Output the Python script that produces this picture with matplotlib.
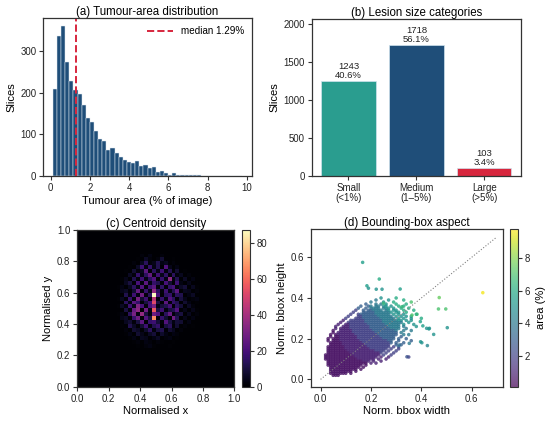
import numpy as np
import matplotlib
matplotlib.use("Agg")
import matplotlib.pyplot as plt
from matplotlib.lines import Line2D

plt.rcParams['font.family'] = ['Liberation Sans', 'DejaVu Sans']
plt.rcParams['axes.edgecolor'] = '#333333'
plt.rcParams['axes.linewidth'] = 0.9
plt.rcParams['xtick.color'] = '#333333'
plt.rcParams['ytick.color'] = '#333333'
plt.rcParams['xtick.labelcolor'] = '#222222'
plt.rcParams['ytick.labelcolor'] = '#222222'
plt.rcParams['xtick.labelsize'] = 6.9
plt.rcParams['ytick.labelsize'] = 6.9

# ---------------- data ----------------
AREA_MIN = 0.12
AREA_MAX = 9.76
MEDIAN_AREA = 1.29
hist_counts = [209, 336, 360, 273, 228, 207, 197, 171, 139, 129,
               107, 89, 83, 63, 67, 56, 46, 38, 33, 30,
               36, 24, 26, 18, 22, 10, 11, 6, 2, 7,
               3, 3, 3, 2, 2, 2, 0, 0, 1, 0,
               0, 0, 0, 0, 0, 1]

size_categories = ["Small\n(<1%)", "Medium\n(1\u20135%)", "Large\n(>5%)"]
size_counts = [1243, 1718, 103]

# centroid density: rows are y-bins 33 down to 10, columns are x-bins 10..31 (40x40 grid on [0,1])
CENT_BINS = 40
CENT_COL0 = 10
CENT_ROW_TOP = 33
centroid_rows = [
    [0,0,0,0,0,0,2,0,3,0,0,2,0,0,0,0,0,0,0,0,0,0],
    [0,0,0,0,0,1,0,6,2,0,2,8,0,0,1,0,0,0,0,0,0,0],
    [0,0,0,0,2,0,5,14,2,4,12,3,5,0,2,0,0,0,0,0,0,0],
    [0,0,0,1,0,6,18,2,16,3,12,0,22,4,0,3,0,0,0,0,0,0],
    [0,0,1,0,8,2,5,24,1,14,3,18,2,12,0,8,0,1,0,0,0,0],
    [0,0,0,6,2,16,3,14,26,2,18,4,15,1,14,2,5,0,2,0,0,0],
    [0,1,4,0,12,2,18,3,14,22,1,16,3,34,2,12,0,6,0,3,0,0],
    [0,0,5,10,1,20,2,24,3,16,12,2,20,8,1,18,3,0,4,0,0,0],
    [1,3,0,5,14,3,22,1,18,24,2,15,1,16,20,2,6,9,0,5,1,0],
    [0,4,6,1,8,26,2,16,4,36,14,2,18,3,12,24,1,5,4,0,2,0],
    [0,0,12,2,18,3,28,2,14,87,20,1,14,16,2,14,12,0,3,6,0,0],
    [1,5,1,16,2,30,8,18,1,44,2,16,3,22,14,1,10,4,0,2,3,0],
    [0,0,14,3,24,16,2,10,18,52,10,1,24,2,16,12,0,8,3,0,1,0],
    [1,6,2,18,4,32,20,2,20,30,3,9,12,20,1,14,9,0,6,2,0,0],
    [0,0,10,2,26,34,1,28,3,56,10,18,2,10,12,22,1,4,0,4,1,0],
    [1,3,0,14,30,3,36,10,2,28,22,1,14,26,2,8,10,0,5,0,2,0],
    [0,4,6,1,16,28,2,22,10,66,2,16,8,1,28,12,0,4,0,3,0,0],
    [0,0,5,8,2,10,24,1,16,18,9,2,22,10,3,9,8,0,3,0,0,0],
    [0,1,0,12,6,1,8,18,2,12,16,0,10,14,1,8,0,2,0,1,0,0],
    [0,0,2,0,8,6,1,7,14,2,10,12,0,8,5,0,2,0,0,0,0,0],
    [0,0,1,3,0,8,4,1,6,9,0,7,3,0,3,2,0,0,0,0,0,0],
    [0,0,0,1,3,0,5,4,0,3,6,0,2,3,0,1,0,0,0,0,0,0],
    [0,0,0,0,1,2,0,3,2,0,2,1,0,0,1,0,0,0,0,0,0,0],
    [0,0,0,0,0,1,0,2,3,1,0,0,0,1,0,0,0,0,0,0,0,0],
]

# bounding boxes: occupancy grid (width 0.02..0.40 by 0.01, height 0.40 down to 0.02 by 0.01)
# char = area % of that box ('0' = about 0.5 %), '.' = empty
BBOX_W0 = 0.02
BBOX_H0 = 0.40
BBOX_STEP = 0.01
bbox_rows = [
    "......................5.....6..........",
    "....................4....5.....6.......",
    "..................4....5...6......7....",
    "................3...4.4.5...6...6......",
    "..............3..34.44.55.5..6.6.......",
    ".............3..3.4444.455.5..6..6.....",
    "............2..3.334444.45.55..6...6...",
    "...........2...333334444445.55..6......",
    "..........2..2333333444444.5.5.5....6..",
    ".........2...22333333444444.5.5.5.6....",
    "........2...2223333333444444.5.5..5...6",
    ".......1..222222333333344444455.5.5....",
    "......1..2222222333333344444444..5.....",
    ".....1..1122222223333333444444.5...5...",
    "....1..11122222222333333344444.4....5..",
    "....1.111122222222333333334444..4......",
    "...0..11111222222223333333334..4..4....",
    "...0.111111222222222333333333.4........",
    "..0.0111111122222222233333333..4.4.....",
    "..0.001111111222222222333333..3........",
    ".0.0001111111222222222233333.3..3......",
    ".0.000111111112222222222233..3....3....",
    "..0000011111111222222222223.3..3.......",
    "..000001111111112222222222..3.3........",
    ".0000000111111111222222222.2.3.........",
    ".000000011111111112222222.2..2.........",
    ".00000000111111111112222.2..2..........",
    ".0000000001111111111112.2..2...........",
    "0000000000011111111111.2..2............",
    "000000000000111111111.1..1.......2.....",
    "00000000000001111111.1..1..............",
    ".00000000000000111.1..1................",
    ".0000000000000000.1.1..................",
    ".00000000000000.0......................",
    "..000000000000.0.......................",
    "..00000000000.0........................",
    "..000000000.0..........................",
    "..0000000.0............................",
    "...000.................................",
]
outlier_w = [0.167, 0.233, 0.184, 0.19, 0.221, 0.244, 0.316, 0.25, 0.323, 0.363, 0.383,
             0.396, 0.406, 0.43, 0.402, 0.352, 0.312, 0.343, 0.471, 0.644, 0.468, 0.497,
             0.503, 0.449, 0.424, 0.397, 0.432, 0.421]
outlier_h = [0.575, 0.493, 0.46, 0.448, 0.443, 0.443, 0.444, 0.374, 0.357, 0.316, 0.32,
             0.284, 0.263, 0.248, 0.18, 0.177, 0.169, 0.111, 0.402, 0.426, 0.346, 0.346,
             0.254, 0.221, 0.166, 0.185, 0.251, 0.251]
outlier_area = [5.5, 6.0, 5.5, 5.0, 5.0, 5.0, 5.5, 6.5, 6.5, 7.0, 6.5,
                5.5, 5.5, 5.0, 5.0, 4.0, 3.5, 2.5, 7.5, 9.6, 7.0, 7.0,
                5.0, 5.0, 4.5, 5.0, 5.0, 5.0]
DIAG_MAX = 0.7

# ---------------- styles ----------------
NAVY = "#1f4e79"
TEAL = "#2a9d8f"
CRIMSON = "#d7263d"
TITLE_FS = 8.3
LABEL_FS = 8.0
ANNOT_FS = 6.8

fig = plt.figure(figsize=(5.5, 4.21), dpi=100)
W, H = 550.0, 421.0

def rect(l, t, r, b):
    return [l / W, 1 - b / H, (r - l) / W, (b - t) / H]

# (a) histogram
ax_a = fig.add_axes(rect(43.3, 18.3, 251.7, 176))
edges = np.linspace(AREA_MIN, AREA_MAX, len(hist_counts) + 1)
ax_a.bar(edges[:-1], hist_counts, width=np.diff(edges), align='edge',
         color=NAVY, edgecolor='#dfe8f0', linewidth=0.35)
ax_a.axvline(MEDIAN_AREA, color=CRIMSON, ls='--', lw=1.4)
ax_a.set_xlim(-0.37, 10.25)
ax_a.set_xticks([0, 2, 4, 6, 8, 10])
ax_a.set_yticks([0, 100, 200, 300])
ax_a.set_title("(a) Tumour-area distribution", fontsize=TITLE_FS, pad=2.5)
ax_a.set_xlabel("Tumour area (% of image)", fontsize=LABEL_FS, labelpad=2)
ax_a.set_ylabel("Slices", fontsize=LABEL_FS, labelpad=3)
h = Line2D([], [], color=CRIMSON, ls='--', lw=1.4)
ax_a.legend([h], [f"median {MEDIAN_AREA:.2f}%"], loc='upper right', frameon=False,
            fontsize=7.1, handlelength=2.6, borderaxespad=0.4)

# (b) categories
ax_b = fig.add_axes(rect(311.7, 19, 521, 176))
xpos = np.arange(len(size_categories))
ax_b.bar(xpos, size_counts, color=[TEAL, NAVY, CRIMSON], width=0.8,
         edgecolor='#cfe3ee', linewidth=0.5)
total = sum(size_counts)
for x, c in zip(xpos, size_counts):
    ax_b.text(x, c + 15, f"{c}\n{100 * c / total:.1f}%", ha='center', va='bottom',
              fontsize=ANNOT_FS, linespacing=1.0, color='#222222')
ax_b.set_ylim(0, max(size_counts) * 1.2)
ax_b.set_xticks(xpos)
ax_b.set_xticklabels(size_categories, fontsize=7.0, linespacing=1.05)
ax_b.set_yticks([0, 500, 1000, 1500, 2000])
ax_b.set_title("(b) Lesion size categories", fontsize=TITLE_FS, pad=2.5)
ax_b.set_ylabel("Slices", fontsize=LABEL_FS, labelpad=3)

# (c) centroid density
ax_c = fig.add_axes(rect(77.3, 230, 234.3, 386.7))
grid = np.zeros((CENT_BINS, CENT_BINS))
for i, row in enumerate(centroid_rows):
    yb = CENT_ROW_TOP - i
    grid[yb, CENT_COL0:CENT_COL0 + len(row)] = row
be = np.linspace(0, 1, CENT_BINS + 1)
mesh = ax_c.pcolormesh(be, be, grid, cmap='magma', vmin=0, vmax=grid.max())
ax_c.set_xlim(0, 1)
ax_c.set_ylim(0, 1)
ax_c.set_xticks([0, 0.2, 0.4, 0.6, 0.8, 1.0])
ax_c.set_yticks([0, 0.2, 0.4, 0.6, 0.8, 1.0])
ax_c.set_title("(c) Centroid density", fontsize=TITLE_FS, pad=2.5)
ax_c.set_xlabel("Normalised x", fontsize=LABEL_FS, labelpad=2)
ax_c.set_ylabel("Normalised y", fontsize=LABEL_FS, labelpad=3)
cax_c = fig.add_axes(rect(242.3, 230, 250, 386.7))
cb_c = fig.colorbar(mesh, cax=cax_c)
cb_c.set_ticks([0, 20, 40, 60, 80])
cb_c.outline.set_linewidth(0.8)

# (d) bounding-box aspect
bw, bh, ba = [], [], []
for i, row in enumerate(bbox_rows):
    for j, ch in enumerate(row):
        if ch != '.':
            bw.append(BBOX_W0 + j * BBOX_STEP)
            bh.append(BBOX_H0 - i * BBOX_STEP)
            ba.append(0.5 if ch == '0' else float(ch))
bw += outlier_w
bh += outlier_h
ba += outlier_area
ax_d = fig.add_axes(rect(311, 229, 502.7, 386.7))
sc = ax_d.scatter(bw, bh, c=ba, cmap='viridis', vmin=AREA_MIN, vmax=AREA_MAX,
                  s=6.5, alpha=0.8, linewidths=0)
ax_d.plot([0, DIAG_MAX], [0, DIAG_MAX], ls=':', color='gray', lw=0.8)
ax_d.set_xlim(-0.038, 0.723)
ax_d.set_ylim(-0.036, 0.739)
ax_d.set_xticks([0, 0.2, 0.4, 0.6])
ax_d.set_yticks([0, 0.2, 0.4, 0.6])
ax_d.set_title("(d) Bounding-box aspect", fontsize=TITLE_FS, pad=2.5)
ax_d.set_xlabel("Norm. bbox width", fontsize=LABEL_FS, labelpad=2)
ax_d.set_ylabel("Norm. bbox height", fontsize=LABEL_FS, labelpad=3)
cax_d = fig.add_axes(rect(510.3, 229, 517.7, 386.7))
cb_d = fig.colorbar(sc, cax=cax_d)
cb_d.solids.set_alpha(0.7)
cb_d.set_ticks([2, 4, 6, 8])
cb_d.set_label("area (%)", fontsize=LABEL_FS, labelpad=4)
cb_d.outline.set_linewidth(0.8)

for ax in (ax_a, ax_b, ax_c, ax_d, cax_c, cax_d):
    ax.tick_params(length=3, width=0.8, pad=2)

fig.savefig("out.png", dpi=100)
